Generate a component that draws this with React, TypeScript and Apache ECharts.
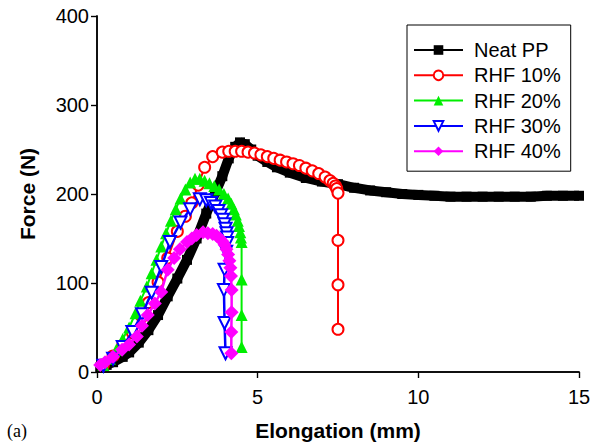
import React, { useEffect, useRef } from "react";
import * as echarts from "echarts";

const seriesNames = ["Neat PP", "RHF 10%", "RHF 20%", "RHF 30%", "RHF 40%"];

const ppX = [0.1, 0.3, 0.5, 0.8, 1.0, 1.3, 1.6, 1.9, 2.2, 2.5, 2.8, 3.1, 3.4, 3.7, 3.9, 4.1, 4.3, 4.45, 4.6, 4.8, 5.0, 5.3, 5.6, 6.0, 6.5, 7.0, 7.5, 8.0, 8.5, 9.0, 9.5, 10, 10.5, 11, 11.5, 12, 12.5, 13, 13.5, 14, 14.5, 15];
const ppY = [5, 8, 11, 17, 22, 33, 47, 64, 85, 105, 126, 150, 178, 203, 220, 240, 253, 258, 256, 250, 243, 236, 230, 224, 218, 214, 211, 207, 204, 202, 200, 199, 198, 197, 197, 197, 197, 197, 197, 198, 198, 198];

const r10X = [0.2, 0.5, 0.8, 1.1, 1.4, 1.6, 1.9, 2.2, 2.5, 2.75, 2.95, 3.15, 3.35, 3.6, 3.9, 4.1, 4.3, 4.5, 4.7, 4.9, 5.1, 5.3, 5.5, 5.7, 5.9, 6.1, 6.3, 6.5, 6.7, 6.9, 7.1, 7.25, 7.35, 7.42, 7.46, 7.5, 7.5, 7.5, 7.5];
const r10Y = [8, 18, 30, 44, 62, 78, 101, 128, 158, 175, 190, 210, 230, 242, 247, 248, 248, 248, 247, 246, 244, 242, 240, 238, 236, 234, 232, 229, 226, 223, 219, 215, 212, 209, 206, 201, 148, 98, 48];

const r20X = [0.2, 0.4, 0.6, 0.8, 1.0, 1.2, 1.35, 1.55, 1.7, 1.85, 2.0, 2.15, 2.3, 2.45, 2.6, 2.75, 2.9, 3.05, 3.2, 3.35, 3.5, 3.65, 3.8, 3.95, 4.08, 4.18, 4.26, 4.32, 4.38, 4.42, 4.46, 4.48, 4.5, 4.5, 4.5, 4.5];
const r20Y = [8, 15, 25, 37, 50, 66, 80, 96, 111, 126, 141, 156, 170, 183, 195, 205, 213, 217, 217, 215, 212, 209, 205, 200, 195, 189, 183, 177, 170, 164, 157, 151, 146, 104, 64, 28];

const r30X = [0.2, 0.5, 0.8, 1.1, 1.4, 1.7, 2.0, 2.27, 2.6, 2.9, 3.2, 3.4, 3.55, 3.68, 3.78, 3.86, 3.92, 3.97, 4.0, 4.03, 4.05, 4.05, 4.02, 3.97, 3.95, 3.97, 4.0];
const r30Y = [7, 15, 28, 45, 65, 89, 118, 146, 168, 183, 194, 193, 190, 186, 181, 176, 171, 166, 161, 156, 151, 145, 135, 115, 92, 55, 21];

const r40X = [0.1, 0.25, 0.5, 0.78, 1.0, 1.24, 1.4, 1.58, 1.8, 2.0, 2.2, 2.4, 2.58, 2.8, 2.95, 3.1, 3.3, 3.45, 3.6, 3.72, 3.82, 3.9, 3.97, 4.03, 4.08, 4.12, 4.15, 4.17, 4.19, 4.19, 4.18, 4.18];
const r40Y = [8, 11, 17, 25, 31, 40, 52, 64, 77, 90, 115, 128, 138, 146, 150, 154, 157, 156, 155, 153, 150, 147, 143, 138, 132, 125, 117, 108, 92, 67, 45, 21];

const xTicks = { min: 0, max: 15, interval: 5 };
const yTicks = { min: 0, max: 400, interval: 100 };

const pairs = (xs: number[], ys: number[]) => xs.map((x, i) => [x, ys[i]]);

const FONT = "'Liberation Sans', Arial, Helvetica, sans-serif";

export default function App() {
  const ref = useRef<HTMLDivElement>(null);
  useEffect(() => {
    if (!ref.current) return;
    const chart = echarts.init(ref.current, undefined, { renderer: "svg" });
    const axisLine = { show: true, lineStyle: { color: "#000", width: 1.5 } };
    chart.setOption({
      animation: false,
      backgroundColor: "#fff",
      grid: { left: 97, right: 15, top: 16, bottom: 71, containLabel: false, outerBoundsMode: "none" },
      xAxis: [
        {
          type: "value", ...xTicks, position: "bottom",
          axisLine, splitLine: { show: false },
          axisTick: { show: true, inside: false, length: 6, lineStyle: { color: "#000", width: 1.2 } },
          axisLabel: { color: "#000", fontSize: 20, fontFamily: FONT, margin: 15 },
          name: "Elongation (mm)", nameLocation: "middle", nameGap: 48,
          nameTextStyle: { color: "#000", fontSize: 21, fontWeight: "bold", fontFamily: FONT },
        },
        {
          type: "value", ...xTicks, position: "top",
          axisLine, splitLine: { show: false },
          axisTick: { show: true, inside: true, length: 6, lineStyle: { color: "#000", width: 1.2 } },
          axisLabel: { show: false },
        },
      ],
      yAxis: [
        {
          type: "value", ...yTicks, position: "left",
          axisLine, splitLine: { show: false },
          axisTick: { show: true, inside: false, length: 6, lineStyle: { color: "#000", width: 1.2 } },
          axisLabel: { color: "#000", fontSize: 20, fontFamily: FONT, margin: 8 },
          name: "Force (N)", nameLocation: "middle", nameGap: 59, nameRotate: 90,
          nameTextStyle: { color: "#000", fontSize: 21, fontWeight: "bold", fontFamily: FONT },
        },
        {
          type: "value", ...yTicks, position: "right",
          axisLine, splitLine: { show: false },
          axisTick: { show: true, inside: true, length: 6, lineStyle: { color: "#000", width: 1.2 } },
          axisLabel: { show: false },
        },
      ],
      legend: {
        orient: "vertical",
        left: 407,
        top: 25,
        data: seriesNames,
        itemWidth: 49,
        itemHeight: 12,
        itemGap: 5.3,
        padding: [15, 10, 10, 6],
        borderColor: "#000",
        borderWidth: 1,
        backgroundColor: "#fff",
        lineStyle: { width: 2 },
        textStyle: { color: "#000", fontSize: 20, fontFamily: FONT, lineHeight: 20, padding: [0, 0, 0, 6] },
      },
      graphic: [
        {
          type: "text", left: 7, top: 422,
          style: { text: "(a)", fontSize: 18, fontFamily: "'Liberation Serif', 'Times New Roman', serif", fill: "#000" },
        },
      ],
      series: [
        {
          name: seriesNames[0], type: "line", data: pairs(ppX, ppY),
          symbol: "rect", symbolSize: 10,
          lineStyle: { color: "#000", width: 10 }, itemStyle: { color: "#000" }, z: 2,
        },
        {
          name: seriesNames[1], type: "line", data: pairs(r10X, r10Y),
          symbol: "emptyCircle", symbolSize: 11,
          lineStyle: { color: "#ff0000", width: 2 }, itemStyle: { color: "#ff0000", borderWidth: 1 }, z: 3,
        },
        {
          name: seriesNames[2], type: "line", data: pairs(r20X, r20Y),
          symbol: "triangle", symbolSize: 12,
          lineStyle: { color: "#00ee00", width: 2 }, itemStyle: { color: "#00ee00" }, z: 4,
        },
        {
          name: seriesNames[3], type: "line", data: pairs(r30X, r30Y),
          symbol: "emptyTriangle", symbolSize: 12, symbolRotate: 180,
          lineStyle: { color: "#0000ff", width: 2.5 }, itemStyle: { color: "#0000ff", borderWidth: 1 }, z: 5,
        },
        {
          name: seriesNames[4], type: "line", data: pairs(r40X, r40Y),
          symbol: "diamond", symbolSize: 14,
          lineStyle: { color: "#ff00ff", width: 2.5 }, itemStyle: { color: "#ff00ff" }, z: 6,
        },
      ],
    });
    return () => chart.dispose();
  }, []);
  return <div ref={ref} style={{ position: "fixed", left: 0, top: 0, width: 594, height: 443 }} />;
}
